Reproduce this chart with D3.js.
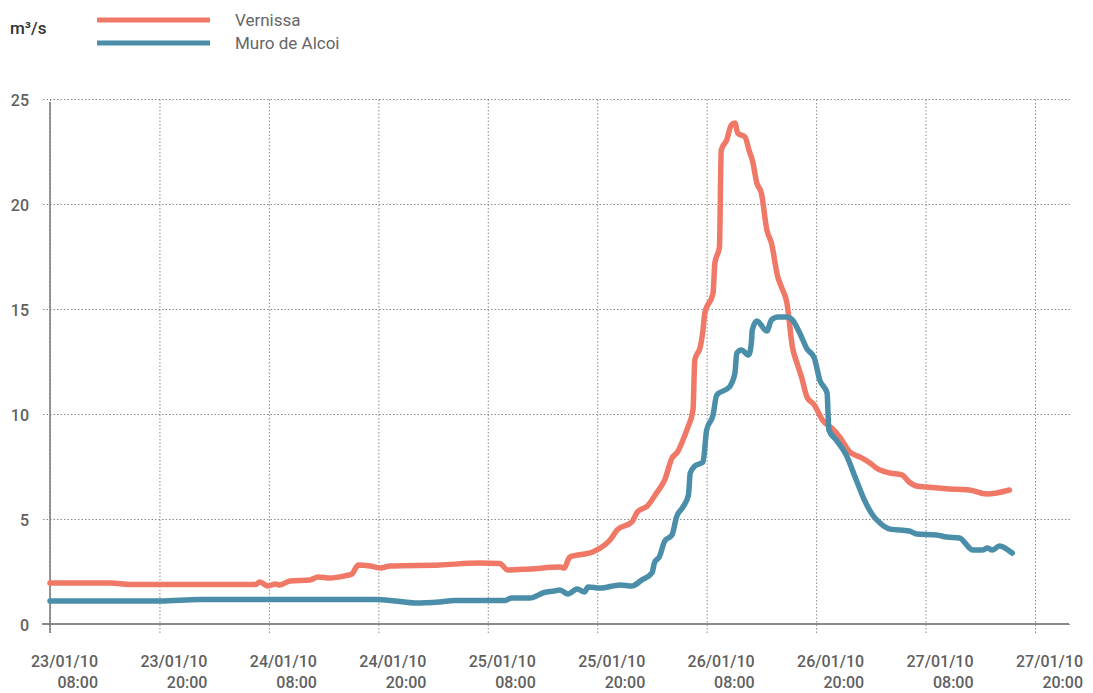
<!DOCTYPE html>
<html>
<head>
<meta charset="utf-8">
<script src="https://cdn.jsdelivr.net/npm/d3@7"></script>
<style>
  body { margin: 0; background: #fff; font-family: Roboto, "Liberation Sans", Arial, sans-serif; }
  .grid line { stroke: #8a8a8a; stroke-dasharray: 1.5,2; stroke-width: 1; }
  .grid .domain { display: none; }
  .grid text { fill: #5f5f5f; font-size: 16px; font-family: Roboto, sans-serif; font-weight: 500; }
</style>
</head>
<body>
<div id="chart"></div>
<script>
// dimensions
var width = 1093;
var height = 693;

// data (hours after 23/01/10 08:00, flow in m3/s)
var vernissaHours = [0, 6.6, 8.8, 22.5, 23.0, 23.9, 24.7, 25.2, 26.3, 28.5, 29.4, 30.7, 32.3, 33.1, 33.8, 35.1, 36.2, 37.3, 42.7, 47.1, 49.3, 50.2, 52.6, 55.9, 56.4, 56.8, 57.0, 59.5, 60.8, 61.4, 62.2, 63.8, 64.4, 65.5, 66.5, 67.4, 68.2, 68.8, 69.4, 69.9, 70.5, 70.7, 71.0, 71.2, 71.6, 71.8, 72.7, 72.9, 73.4, 73.6, 74.2, 74.7, 75.1, 75.4, 76.2, 76.7, 77.0, 77.5, 78.0, 78.6, 79.1, 79.8, 80.2, 80.8, 81.4, 81.9, 82.4, 83.0, 83.8, 84.7, 85.7, 86.6, 87.7, 88.8, 89.9, 90.6, 92.1, 93.4, 94.2, 95.0, 96.1, 98.6, 100.8, 102.7, 103.8, 105.2];
var vernissaFlow = [1.95, 1.95, 1.88, 1.88, 2.0, 1.81, 1.9, 1.86, 2.05, 2.1, 2.24, 2.19, 2.29, 2.38, 2.81, 2.76, 2.67, 2.76, 2.81, 2.9, 2.88, 2.57, 2.62, 2.71, 2.67, 3.05, 3.19, 3.43, 3.76, 4.0, 4.48, 4.86, 5.33, 5.62, 6.24, 6.86, 7.9, 8.19, 8.76, 9.33, 10.19, 12.57, 12.9, 13.05, 14.0, 14.81, 15.76, 17.19, 17.95, 22.57, 23.05, 23.76, 23.86, 23.38, 23.19, 22.48, 22.1, 21.0, 20.52, 18.76, 18.14, 16.52, 16.05, 15.29, 13.19, 12.43, 11.76, 10.81, 10.43, 9.71, 9.33, 8.9, 8.19, 7.95, 7.67, 7.43, 7.19, 7.1, 6.76, 6.57, 6.52, 6.43, 6.38, 6.19, 6.24, 6.38];

var muroHours = [0, 12.1, 16.4, 35.6, 37.8, 40.0, 42.7, 44.4, 49.9, 50.6, 52.6, 54.2, 55.3, 55.9, 56.8, 57.8, 58.6, 59.0, 60.3, 62.5, 63.8, 64.9, 66.0, 66.3, 66.8, 67.4, 68.2, 68.7, 69.4, 70.0, 70.2, 70.7, 71.6, 72.0, 72.7, 73.1, 74.5, 75.1, 75.3, 75.8, 76.6, 76.9, 77.0, 77.5, 78.6, 79.1, 79.8, 80.8, 81.4, 82.2, 83.0, 83.8, 84.4, 85.2, 85.4, 86.2, 87.3, 88.4, 89.3, 90.2, 91.0, 92.1, 94.2, 95.0, 97.2, 98.3, 99.7, 101.2, 102.2, 102.8, 103.3, 104.1, 104.9, 105.5];
var muroFlow = [1.1, 1.1, 1.17, 1.17, 1.1, 1.0, 1.05, 1.12, 1.12, 1.24, 1.24, 1.5, 1.57, 1.62, 1.43, 1.67, 1.52, 1.76, 1.71, 1.86, 1.81, 2.1, 2.43, 2.95, 3.19, 3.95, 4.24, 5.1, 5.57, 6.14, 7.19, 7.52, 7.71, 9.24, 9.95, 10.9, 11.29, 11.95, 12.9, 13.05, 12.81, 13.38, 14.0, 14.43, 13.95, 14.48, 14.62, 14.62, 14.48, 13.86, 13.1, 12.67, 11.62, 11.0, 9.24, 8.76, 8.05, 6.86, 5.9, 5.19, 4.81, 4.52, 4.43, 4.29, 4.24, 4.14, 4.1, 3.52, 3.52, 3.62, 3.52, 3.71, 3.57, 3.38];

var tickTimes = ["2010-01-23T08:00", "2010-01-23T20:00", "2010-01-24T08:00", "2010-01-24T20:00", "2010-01-25T08:00", "2010-01-25T20:00", "2010-01-26T08:00", "2010-01-26T20:00", "2010-01-27T08:00", "2010-01-27T20:00"];
var yTicks = [0, 5, 10, 15, 20, 25];

var seriesNames = ["Vernissa", "Muro de Alcoi"];
var seriesColors = ["#f07866", "#4a8ea9"];

var parseTime = d3.timeParse("%Y-%m-%dT%H:%M");
var startTime = parseTime(tickTimes[0]);
var ticks = tickTimes.map(parseTime);

function toPoints(hours, flow) {
    return hours.map(function (h, i) {
        return { t: d3.timeMinute.offset(startTime, Math.round(h * 60)), v: flow[i] };
    });
}
var series = [toPoints(vernissaHours, vernissaFlow), toPoints(muroHours, muroFlow)];

var svg = d3.select("#chart")
    .append("svg")
    .attr("width", width)
    .attr("height", height);

var x = d3.scaleTime()
    .domain([ticks[0], ticks[ticks.length - 1]])
    .range([50, 1035]);
var y = d3.scaleLinear()
    .domain([0, 25])
    .range([624, 99]);

// horizontal gridlines + y labels
svg.append("g")
    .attr("class", "grid")
    .attr("transform", "translate(43,0)")
    .call(d3.axisLeft(y).tickValues(yTicks).tickSize(-1027).tickPadding(14))
    .selectAll("text")
    .attr("dy", "0.4em");

// vertical gridlines
svg.append("g")
    .attr("class", "grid")
    .attr("transform", "translate(0,633)")
    .call(d3.axisBottom(x).tickValues(ticks).tickSize(-(633 - 99)).tickFormat(""));

// x labels, two lines
var fmtDate = d3.timeFormat("%d/%m/%y");
var fmtHour = d3.timeFormat("%H:%M");
var xl = svg.append("g").selectAll("g")
    .data(ticks)
    .enter()
    .append("g")
    .attr("transform", function (d) { return "translate(" + (x(d) + 48) + ",0)"; })
    .attr("fill", "#5f5f5f")
    .attr("font-size", "16px")
    .attr("font-weight", 500)
    .attr("text-anchor", "end");
xl.append("text").attr("y", 667).text(fmtDate);
xl.append("text").attr("y", 688).text(fmtHour);

// axes lines
svg.append("line")
    .attr("x1", 42).attr("x2", 1069)
    .attr("y1", y(0)).attr("y2", y(0))
    .attr("stroke", "#8a8a8a").attr("stroke-width", 2);
svg.append("line")
    .attr("x1", x(ticks[0])).attr("x2", x(ticks[0]))
    .attr("y1", 102).attr("y2", 633)
    .attr("stroke", "#777").attr("stroke-width", 1.5);

// lines
var line = d3.line()
    .x(function (d) { return x(d.t); })
    .y(function (d) { return y(d.v); })
    .curve(d3.curveMonotoneX);

svg.append("g").selectAll("path")
    .data(series)
    .enter()
    .append("path")
    .attr("d", line)
    .attr("fill", "none")
    .attr("stroke", function (d, i) { return seriesColors[i]; })
    .attr("stroke-width", 5.5)
    .attr("stroke-linejoin", "round")
    .attr("stroke-linecap", "round");

// legend
svg.append("text")
    .attr("x", 10).attr("y", 34)
    .attr("fill", "#333")
    .attr("font-size", "17px")
    .attr("font-weight", 500)
    .text("m³/s");

var legend = svg.append("g").selectAll("g")
    .data(seriesNames)
    .enter()
    .append("g")
    .attr("transform", function (d, i) { return "translate(0," + (20 + i * 23) + ")"; });
legend.append("line")
    .attr("x1", 97).attr("x2", 210)
    .attr("stroke", function (d, i) { return seriesColors[i]; })
    .attr("stroke-width", 5);
legend.append("text")
    .attr("x", 235)
    .attr("dy", "0.35em")
    .attr("fill", "#666")
    .attr("font-size", "17px")
    .text(function (d) { return d; });
</script>
</body>
</html>
